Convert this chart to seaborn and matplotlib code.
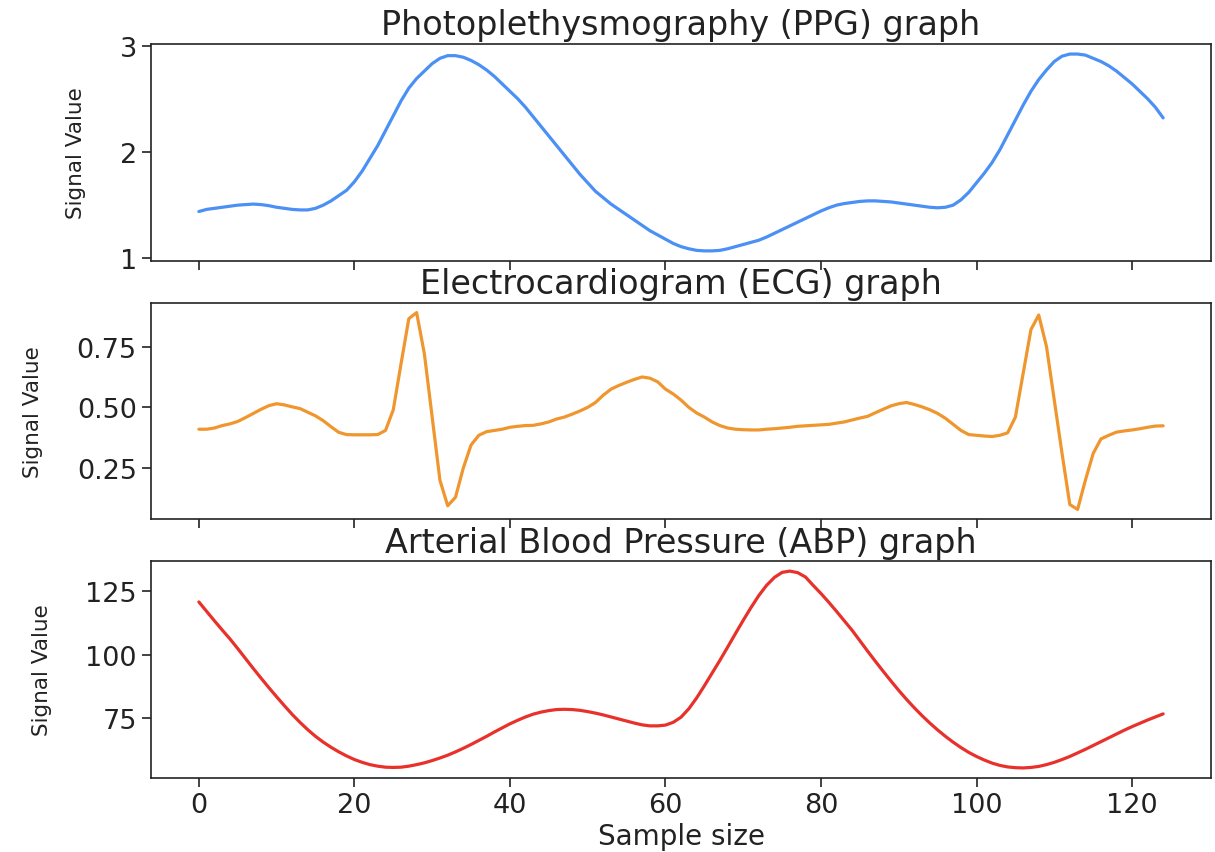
import numpy as np
import pandas as pd
import matplotlib
matplotlib.use("Agg")
import matplotlib.pyplot as plt
from matplotlib.ticker import FixedLocator
import seaborn as sns

# ---- data ----
samples = list(range(125))

ppg = [1.44, 1.46, 1.47, 1.48, 1.49, 1.50, 1.505, 1.51, 1.505, 1.495,
       1.48, 1.47, 1.46, 1.455, 1.455, 1.47, 1.50, 1.54, 1.59, 1.64,
       1.72, 1.82, 1.94, 2.06, 2.20, 2.34, 2.48, 2.60, 2.69, 2.76,
       2.83, 2.88, 2.905, 2.905, 2.89, 2.86, 2.82, 2.77, 2.71, 2.64,
       2.57, 2.50, 2.42, 2.33, 2.24, 2.15, 2.06, 1.97, 1.88, 1.79,
       1.71, 1.63, 1.57, 1.51, 1.46, 1.41, 1.36, 1.31, 1.26, 1.22,
       1.18, 1.14, 1.11, 1.09, 1.075, 1.07, 1.07, 1.075, 1.09, 1.11,
       1.13, 1.15, 1.17, 1.20, 1.235, 1.27, 1.305, 1.34, 1.375, 1.41,
       1.445, 1.475, 1.50, 1.515, 1.525, 1.535, 1.54, 1.54, 1.535, 1.53,
       1.52, 1.51, 1.50, 1.49, 1.48, 1.475, 1.48, 1.50, 1.55, 1.62,
       1.71, 1.80, 1.90, 2.02, 2.16, 2.30, 2.44, 2.57, 2.68, 2.77,
       2.85, 2.90, 2.92, 2.92, 2.91, 2.88, 2.85, 2.81, 2.76, 2.70,
       2.64, 2.57, 2.50, 2.42, 2.32]

ecg = [0.41, 0.41, 0.415, 0.425, 0.432, 0.442, 0.458, 0.475, 0.492, 0.507,
       0.515, 0.51, 0.502, 0.495, 0.48, 0.465, 0.445, 0.42, 0.397, 0.388,
       0.387, 0.387, 0.387, 0.388, 0.405, 0.49, 0.68, 0.865, 0.89, 0.72,
       0.46, 0.2, 0.095, 0.13, 0.25, 0.345, 0.385, 0.40, 0.405, 0.41,
       0.418, 0.422, 0.425, 0.426, 0.432, 0.44, 0.452, 0.46, 0.472, 0.485,
       0.50, 0.52, 0.55, 0.575, 0.59, 0.603, 0.615, 0.625, 0.62, 0.605,
       0.575, 0.555, 0.53, 0.50, 0.477, 0.46, 0.44, 0.425, 0.415, 0.41,
       0.408, 0.407, 0.407, 0.41, 0.412, 0.415, 0.418, 0.422, 0.424, 0.426,
       0.428, 0.43, 0.435, 0.44, 0.448, 0.456, 0.463, 0.478, 0.492, 0.506,
       0.515, 0.52, 0.512, 0.502, 0.49, 0.475, 0.455, 0.43, 0.405, 0.388,
       0.385, 0.382, 0.38, 0.385, 0.395, 0.46, 0.64, 0.82, 0.88, 0.75,
       0.53, 0.31, 0.10, 0.08, 0.2, 0.31, 0.37, 0.385, 0.398, 0.403,
       0.407, 0.412, 0.418, 0.423, 0.424]

abp = [120.7, 117.0, 113.3, 109.7, 106.2, 102.4, 98.5, 94.6, 90.8, 87.1,
       83.5, 80.0, 76.6, 73.5, 70.6, 68.0, 65.7, 63.7, 61.9, 60.3,
       58.9, 57.8, 56.9, 56.3, 55.9, 55.8, 55.9, 56.3, 56.9, 57.6,
       58.5, 59.5, 60.6, 61.9, 63.3, 64.8, 66.4, 68.0, 69.7, 71.3,
       72.9, 74.3, 75.6, 76.7, 77.5, 78.1, 78.5, 78.6, 78.5, 78.2,
       77.7, 77.1, 76.4, 75.6, 74.8, 74.0, 73.2, 72.5, 72.1, 72.1,
       72.4, 73.5, 75.5, 78.8, 83.0, 87.8, 92.8, 97.8, 103.0, 108.3,
       113.5, 118.5, 123.2, 127.2, 130.3, 132.3, 132.8, 132.2, 130.5, 127.2,
       124.0, 120.6, 117.0, 113.3, 109.6, 105.5, 101.4, 97.4, 93.5, 89.7,
       86.0, 82.5, 79.2, 76.1, 73.2, 70.5, 68.0, 65.7, 63.6, 61.7,
       60.1, 58.7, 57.5, 56.6, 56.0, 55.7, 55.6, 55.8, 56.2, 56.9,
       57.8, 58.9, 60.1, 61.5, 62.9, 64.4, 65.9, 67.4, 68.9, 70.4,
       71.8, 73.1, 74.4, 75.6, 76.8]

titles = ["Photoplethysmography (PPG) graph",
          "Electrocardiogram (ECG) graph",
          "Arterial Blood Pressure (ABP) graph"]
colors = ["#4a90f5", "#f0962e", "#e8312a"]
yticks = [[1, 2, 3], [0.25, 0.50, 0.75], [75, 100, 125]]
ytick_labels = [["1", "2", "3"], ["0.25", "0.50", "0.75"], ["75", "100", "125"]]

sns.set_style("ticks", {"axes.edgecolor": "#222222", "xtick.color": "#222222",
                        "ytick.color": "#222222"})
plt.rcParams["font.family"] = ["DejaVu Sans"]

fig = plt.figure(figsize=(12.15, 8.53), dpi=100)
axes = fig.subplots(3, 1, sharex=True)
fig.subplots_adjust(left=0.124, right=0.997, top=0.947, bottom=0.087, hspace=0.194)

series = [ppg, ecg, abp]
for ax, vals, title, col, yt, ytl in zip(axes, series, titles, colors, yticks, ytick_labels):
    df = pd.DataFrame({"x": samples, "y": vals})
    sns.lineplot(data=df, x="x", y="y", ax=ax, color=col, linewidth=2.3)
    ax.set_title(title, fontsize=24, color="#222222", pad=7)
    ax.set_ylabel("Signal Value", fontsize=15.5, color="#222222", labelpad=24)
    ax.set_xlabel("")
    ax.yaxis.set_major_locator(FixedLocator(yt))
    ax.set_yticklabels(ytl)
    ax.tick_params(axis="both", which="major", labelsize=19.5, length=6.5, width=1.2,
                   direction="out", colors="#222222")
    for s in ax.spines.values():
        s.set_linewidth(1.2)
        s.set_visible(True)

axes[-1].set_xticks([0, 20, 40, 60, 80, 100, 120])
axes[-1].set_xlabel("Sample size", fontsize=20, color="#222222", labelpad=3)

fig.savefig("out.png", dpi=100, facecolor="white")
